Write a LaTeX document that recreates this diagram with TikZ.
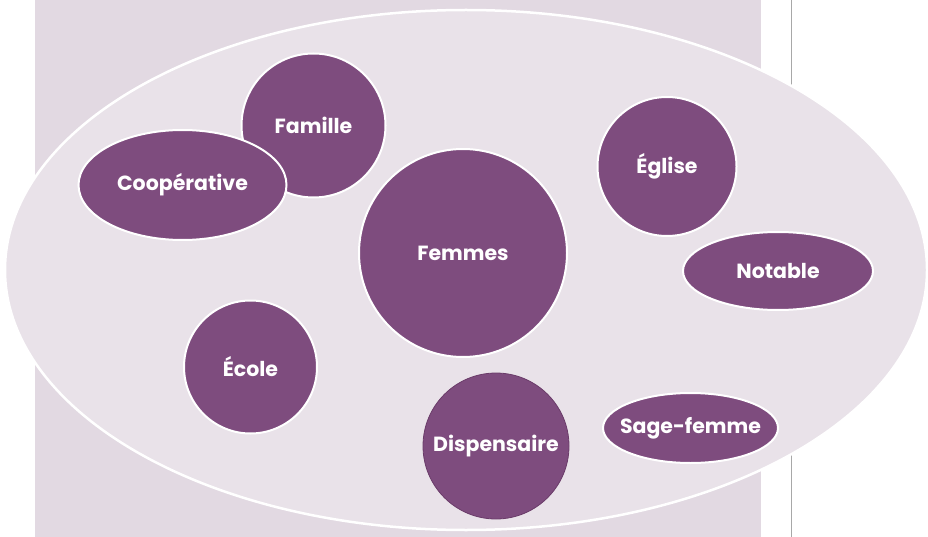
\documentclass[tikz,border=0pt]{standalone}
\usepackage{fontspec}
\setmainfont{Poppins}
\usetikzlibrary{shapes.geometric}
\definecolor{bubblefill}{HTML}{7E4C7E}
\definecolor{bubbledark}{HTML}{6A3B69}
\definecolor{panel}{HTML}{E2D9E2}
\definecolor{oval}{HTML}{E9E2E9}
\definecolor{rule}{HTML}{A8A8A8}
\tikzset{
  bubble/.style={circle, fill=bubblefill, draw=white, line width=2pt, text=white,
    font=\fontsize{20.5}{22}\selectfont\bfseries, inner sep=0pt},
  oblong/.style={ellipse, fill=bubblefill, draw=white, line width=2pt, text=white,
    font=\fontsize{20.5}{22}\selectfont\bfseries, inner sep=0pt},
}
\begin{document}
\begin{tikzpicture}[x=1pt,y=-1pt]
\useasboundingbox (0,0) rectangle (928,537);
\fill[panel] (35,0) rectangle (761,537);
\draw[rule, line width=1pt] (791,0) -- (791,537);
\node[ellipse, fill=oval, draw=white, line width=2.5pt, minimum width=922pt, minimum height=520pt, inner sep=0pt] (world) at (466,270) {};
\node[bubble, minimum size=144pt] (famille) at (313.5,125.5) {Famille};
\node[oblong, minimum width=208pt, minimum height=110pt] (coop) at (182.5,185) {\makebox[0pt]{Coopérative}};
\node[bubble, minimum size=208pt] (femmes) at (463,253) {Femmes};
\node[bubble, minimum size=139pt] (eglise) at (667,166.5) {Église};
\node[oblong, minimum width=190pt, minimum height=78pt] (notable) at (778,271) {\makebox[0pt]{Notable}};
\node[bubble, minimum size=133pt] (ecole) at (250.5,367) {École};
\node[bubble, draw=bubbledark, line width=0.8pt, minimum size=146pt] (dispensaire) at (496,446) {\makebox[0pt]{Dispensaire}};
\node[oblong, minimum width=175pt, minimum height=70pt] (sage) at (690.5,428) {\makebox[0pt]{Sage-femme}};
\end{tikzpicture}
\end{document}
